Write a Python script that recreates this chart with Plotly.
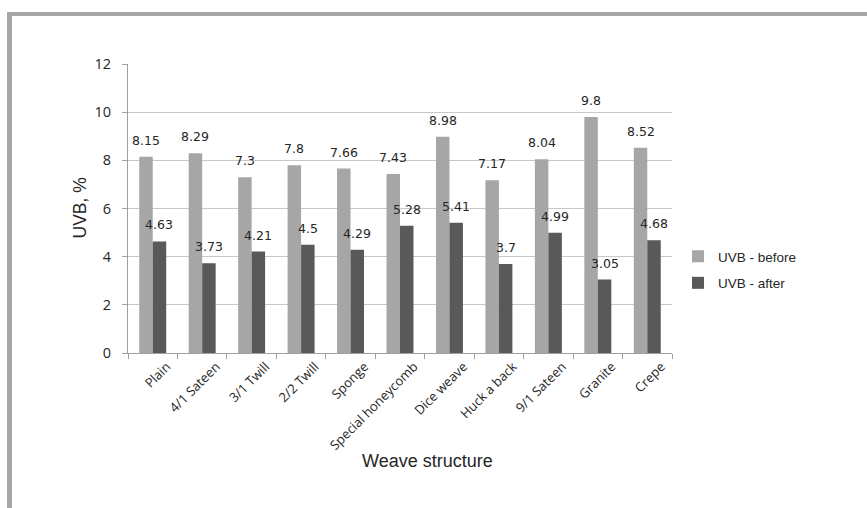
import plotly.graph_objects as go

categories = ["Plain", "4/1 Sateen", "3/1 Twill", "2/2 Twill", "Sponge", "Special honeycomb",
              "Dice weave", "Huck a back", "9/1 Sateen", "Granite", "Crepe"]
uvb_before = [8.15, 8.29, 7.3, 7.8, 7.66, 7.43, 8.98, 7.17, 8.04, 9.8, 8.52]
uvb_after = [4.63, 3.73, 4.21, 4.5, 4.29, 5.28, 5.41, 3.7, 4.99, 3.05, 4.68]
y_ticks = [0, 2, 4, 6, 8, 10, 12]

W, H = 867, 508
L, R, T, B = 128, 672, 64, 353

def px(x):
    return (x - L) / (R - L)

def py(y):
    return (B - y) / (B - T)

label_font = dict(family="DejaVu Sans", size=12.5, color="#262626")

fig = go.Figure()
fig.add_trace(go.Bar(
    x=categories, y=uvb_before, name="UVB - before", legendgroup="a",
    marker=dict(color="#a6a6a6", line=dict(width=0)),
))
fig.add_trace(go.Bar(
    x=categories, y=uvb_after, name="UVB - after", legendgroup="b",
    marker=dict(color="#595959", line=dict(width=0)),
))

# data labels placed over each bar (values from the series)
bar_offset = (R - L) / len(categories) * (1 - 0.455) / 4
annotations = []
for cat, v in zip(categories, uvb_before):
    annotations.append(dict(x=cat, y=v, xref="x", yref="y", text=str(v), showarrow=False,
                            xanchor="center", yanchor="bottom", xshift=-bar_offset, yshift=7,
                            font=label_font))
for cat, v in zip(categories, uvb_after):
    annotations.append(dict(x=cat, y=v, xref="x", yref="y", text=str(v), showarrow=False,
                            xanchor="center", yanchor="bottom", xshift=bar_offset, yshift=7,
                            font=label_font))

annotations += [
    dict(text="UVB, %", x=px(79), y=0.5, xref="paper", yref="paper", textangle=-90,
         showarrow=False, font=dict(family="Arial", size=17.5, color="#262626"),
         xanchor="center", yanchor="middle"),
    dict(text="Weave structure", x=px(427), y=py(461), xref="paper", yref="paper",
         showarrow=False, font=dict(family="Arial", size=18, color="#262626"),
         xanchor="center", yanchor="middle"),
]

fig.update_layout(
    width=W, height=H,
    margin=dict(l=L, r=W - R, t=T, b=H - B, pad=0),
    paper_bgcolor="white", plot_bgcolor="white",
    barmode="group", bargap=0.455, bargroupgap=0,
    showlegend=True,
    legend=dict(x=px(678), y=py(241), xanchor="left", yanchor="top",
                font=dict(family="Arial", size=13.5, color="#262626"),
                tracegroupgap=6, bgcolor="rgba(0,0,0,0)", itemwidth=30),
    xaxis=dict(
        type="category", showline=True, linecolor="#a0a0a0", linewidth=1,
        ticks="outside", tickson="boundaries", ticklen=5, tickcolor="#a0a0a0",
        tickangle=-45, tickfont=dict(family="Open Sans", size=13, color="#262626"),
        ticklabelshift=14, ticklabelstandoff=0,
        showgrid=False,
    ),
    yaxis=dict(
        range=[0, 12], tickvals=y_ticks, showline=True, linecolor="#a0a0a0", linewidth=1,
        ticks="outside", ticklen=5, tickcolor="#a0a0a0",
        showgrid=True, gridcolor="#c8c8c8", gridwidth=1, zeroline=False,
        tickfont=dict(family="Open Sans", size=14.5, color="#262626"),
        ticklabelstandoff=8,
    ),
    annotations=annotations,
    shapes=[
        dict(type="rect", xref="paper", yref="paper", x0=px(7), x1=px(12), y0=py(H + 5), y1=py(12),
             fillcolor="#a6a6a6", line=dict(width=0), layer="above"),
        dict(type="rect", xref="paper", yref="paper", x0=px(7), x1=px(W + 5), y0=py(16), y1=py(12),
             fillcolor="#a6a6a6", line=dict(width=0), layer="above"),
    ],
)

fig.write_html("out.html", config={"displayModeBar": False},
               post_script="document.body.style.margin='0';")
